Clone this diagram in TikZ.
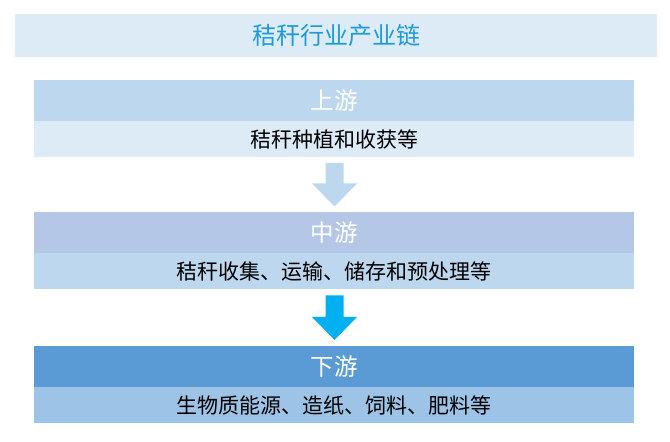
\documentclass[tikz,border=0pt]{standalone}
\usepackage{fontspec}
\setmainfont{Noto Sans CJK SC}
\usepackage{xcolor}
\usepackage{tikz}
\usetikzlibrary{positioning,calc}

\definecolor{titlefill}{HTML}{DDEBF7}
\definecolor{titletext}{HTML}{1F9BD7}
\definecolor{uphead}{HTML}{BDD7EE}
\definecolor{upsubfill}{HTML}{DDEBF7}
\definecolor{midhead}{HTML}{B4C7E7}
\definecolor{midsubfill}{HTML}{BDD7EE}
\definecolor{lowhead}{HTML}{5B9BD5}
\definecolor{lowsubfill}{HTML}{9DC3E6}
\definecolor{arrowlight}{HTML}{BDD7EE}
\definecolor{arrowcyan}{HTML}{00B0F0}

\begin{document}
\begin{tikzpicture}[
        x=1pt, y=1pt,
        head/.style={minimum width=600pt, minimum height=41pt, inner sep=0pt, outer sep=0pt, text=white, font=\fontsize{23.5}{27}\selectfont},
        sub/.style={minimum width=600pt, minimum height=36pt, inner sep=0pt, outer sep=0pt, text=black, font=\fontsize{21}{24}\selectfont},
        blockarrow/.style={draw=none}
    ]
        \useasboundingbox (0,0) rectangle (670,442);

        % Title
        \node[fill=titlefill, minimum width=642pt, minimum height=43pt, inner sep=0pt, text=titletext, font=\fontsize{24}{28}\selectfont] (title) at (336,406.5) {秸秆行业产业链};

        % Upstream
        \node[head, fill=uphead] (uphd) at (334,341.5) {上游};
        \node[sub, fill=upsubfill, below=0pt of uphd] (upsub) {秸秆种植和收获等};

        % Midstream
        \node[head, fill=midhead] (midhd) at (334,209) {中游};
        \node[sub, fill=midsubfill, below=0pt of midhd] (midsub) {秸秆收集、运输、储存和预处理等};

        % Downstream
        \node[head, fill=lowhead] (lowhd) at (334,75.5) {下游};
        \node[sub, fill=lowsubfill, below=0pt of lowhd] (lowsub) {生物质能源、造纸、饲料、肥料等};

        % Block arrows
        \fill[blockarrow, arrowlight] ($(upsub.south)+(-8.5,-6)$) -- ($(upsub.south)+(9.5,-6)$) -- ($(midhd.north)+(9.5,29)$) -- ($(midhd.north)+(23,29)$) -- ($(midhd.north)+(0.5,6)$) -- ($(midhd.north)+(-22,29)$) -- ($(midhd.north)+(-8.5,29)$) -- cycle;
        \fill[blockarrow, arrowcyan] ($(midsub.south)+(-8.5,-6)$) -- ($(midsub.south)+(9.5,-6)$) -- ($(lowhd.north)+(9.5,29)$) -- ($(lowhd.north)+(23,29)$) -- ($(lowhd.north)+(0.5,6)$) -- ($(lowhd.north)+(-22,29)$) -- ($(lowhd.north)+(-8.5,29)$) -- cycle;
    \end{tikzpicture}
\end{document}
